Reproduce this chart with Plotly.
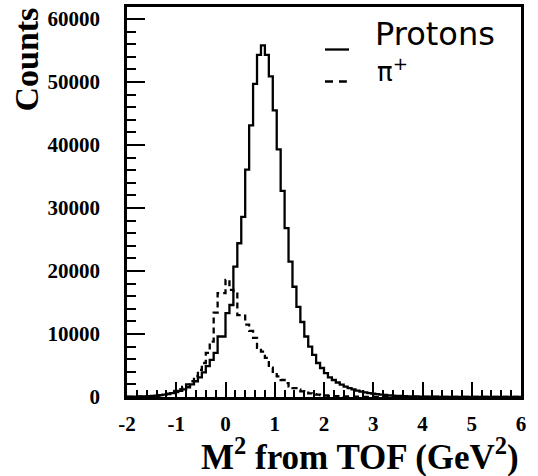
import numpy as np
import plotly.graph_objects as go

# Histogram binning: 100 bins of M^2 between -2 and 6 GeV^2
x_min, x_max, n_bins = -2.0, 6.0, 100
bin_edges = np.linspace(x_min, x_max, n_bins + 1)

# Counts per bin
protons = [
    50, 60, 70, 90, 110, 140, 180, 230, 290, 370,
    470, 600, 780, 980, 1220, 1550, 2000, 2500, 3100, 3900,
    4900, 5900, 7000, 9600, 9600, 13300, 14600, 20700, 24400, 28600,
    36100, 43100, 49700, 54300, 55800, 54300, 50900, 45500, 39300, 32700,
    26800, 21500, 17500, 14300, 11900, 9600, 8000, 6700, 5400, 4600,
    3800, 3100, 2700, 2300, 1950, 1650, 1400, 1200, 1000, 850,
    720, 620, 530, 450, 380, 320, 270, 230, 190, 160,
    130, 110, 95, 80, 70, 60, 50, 45, 40, 35,
    30, 28, 25, 22, 20, 18, 16, 14, 12, 10,
    9, 8, 7, 6, 5, 4, 3, 2, 2, 1,
]
pions = [
    20, 30, 40, 60, 80, 110, 150, 200, 280, 380,
    520, 700, 950, 1250, 1600, 2000, 2500, 3300, 4300, 5400,
    7000, 8800, 13400, 16500, 16500, 18600, 17000, 16800, 13000, 12900,
    11500, 10500, 9400, 7800, 7200, 6200, 4650, 4000, 3280, 2700,
    2200, 1700, 1400, 1150, 900, 700, 560, 450, 370, 300,
    240, 190, 150, 120, 100, 80, 65, 50, 40, 32,
    26, 21, 17, 14, 11, 9, 7, 6, 5, 4,
    3, 3, 2, 2, 2, 1, 1, 1, 1, 1,
    0, 0, 0, 0, 0, 0, 0, 0, 0, 0,
    0, 0, 0, 0, 0, 0, 0, 0, 0, 0,
]

x_tick_vals = [-2, -1, 0, 1, 2, 3, 4, 5, 6]
x_tick_text = ["-2", "-1", "0", "1", "2", "3", "4", "5", "6"]
y_tick_vals = [0, 10000, 20000, 30000, 40000, 50000, 60000]
y_tick_text = ["0", "10000", "20000", "30000", "40000", "50000", "60000"]

serif = "Liberation Serif"
sans = "DejaVu Sans"
line_w = 2.3


def step_trace(values, dash):
    # step outline: each bin drawn flat from its lower edge to the next
    y = list(values) + [values[-1]]
    return go.Scatter(
        x=bin_edges, y=y, mode="lines", line_shape="hv",
        line=dict(color="black", width=line_w, dash=dash),
        showlegend=False, hoverinfo="skip",
    )


def bold(labels):
    return [f"<b>{t}</b>" for t in labels]


fig = go.Figure()
fig.add_trace(step_trace(pions, "6px,4px"))
fig.add_trace(step_trace(protons, "solid"))

axis_common = dict(
    showline=True, linewidth=2.5, linecolor="black", mirror=True,
    showgrid=False, zeroline=False, ticks="inside", tickwidth=2,
    tickcolor="black",
    tickfont=dict(family=serif, size=21, color="black"),
)

fig.update_xaxes(
    range=[x_min, x_max], tickvals=x_tick_vals, ticktext=bold(x_tick_text),
    ticklen=15, ticklabelstandoff=6,
    minor=dict(dtick=0.2, tick0=-2, ticks="inside", ticklen=7,
               tickwidth=2, tickcolor="black", showgrid=False),
    **axis_common,
)
fig.update_yaxes(
    range=[0, 61900], tickvals=y_tick_vals, ticktext=bold(y_tick_text),
    ticklen=18, ticklabelstandoff=20,
    minor=dict(dtick=2000, tick0=0, ticks="inside", ticklen=9,
               tickwidth=2, tickcolor="black", showgrid=False),
    **axis_common,
)

# Legend key drawn in the upper right of the frame
legend_x0, legend_x1 = 0.5025, 0.5635
fig.add_shape(type="line", xref="paper", yref="paper",
              x0=legend_x0, x1=legend_x1, y0=0.891, y1=0.891,
              line=dict(color="black", width=line_w))
fig.add_shape(type="line", xref="paper", yref="paper",
              x0=legend_x0, x1=0.558, y0=0.809, y1=0.809,
              line=dict(color="black", width=line_w, dash="8px,6px"))

annotations = [
    dict(text="Protons", x=0.625, y=0.930, xanchor="left", yanchor="middle",
         font=dict(family=sans, size=32, color="black")),
    dict(text="π<sup>+</sup>", x=0.629, y=0.838, xanchor="left", yanchor="middle",
         font=dict(family=sans, size=26, color="black")),
    dict(text="<b>Counts</b>", x=-0.254, y=0.865, textangle=-90,
         xanchor="center", yanchor="middle",
         font=dict(family=serif, size=34, color="black")),
    dict(text="<b>M<sup>2</sup> from TOF (GeV<sup>2</sup>)</b>", x=1.0, y=-0.211,
         xanchor="right", yanchor="bottom",
         font=dict(family=serif, size=35, color="black")),
]
for a in annotations:
    fig.add_annotation(xref="paper", yref="paper", showarrow=False, **a)

fig.update_layout(
    width=538, height=476,
    margin=dict(l=127, r=17, t=4, b=79),
    paper_bgcolor="white", plot_bgcolor="white",
)

fig.write_html("out.html")
